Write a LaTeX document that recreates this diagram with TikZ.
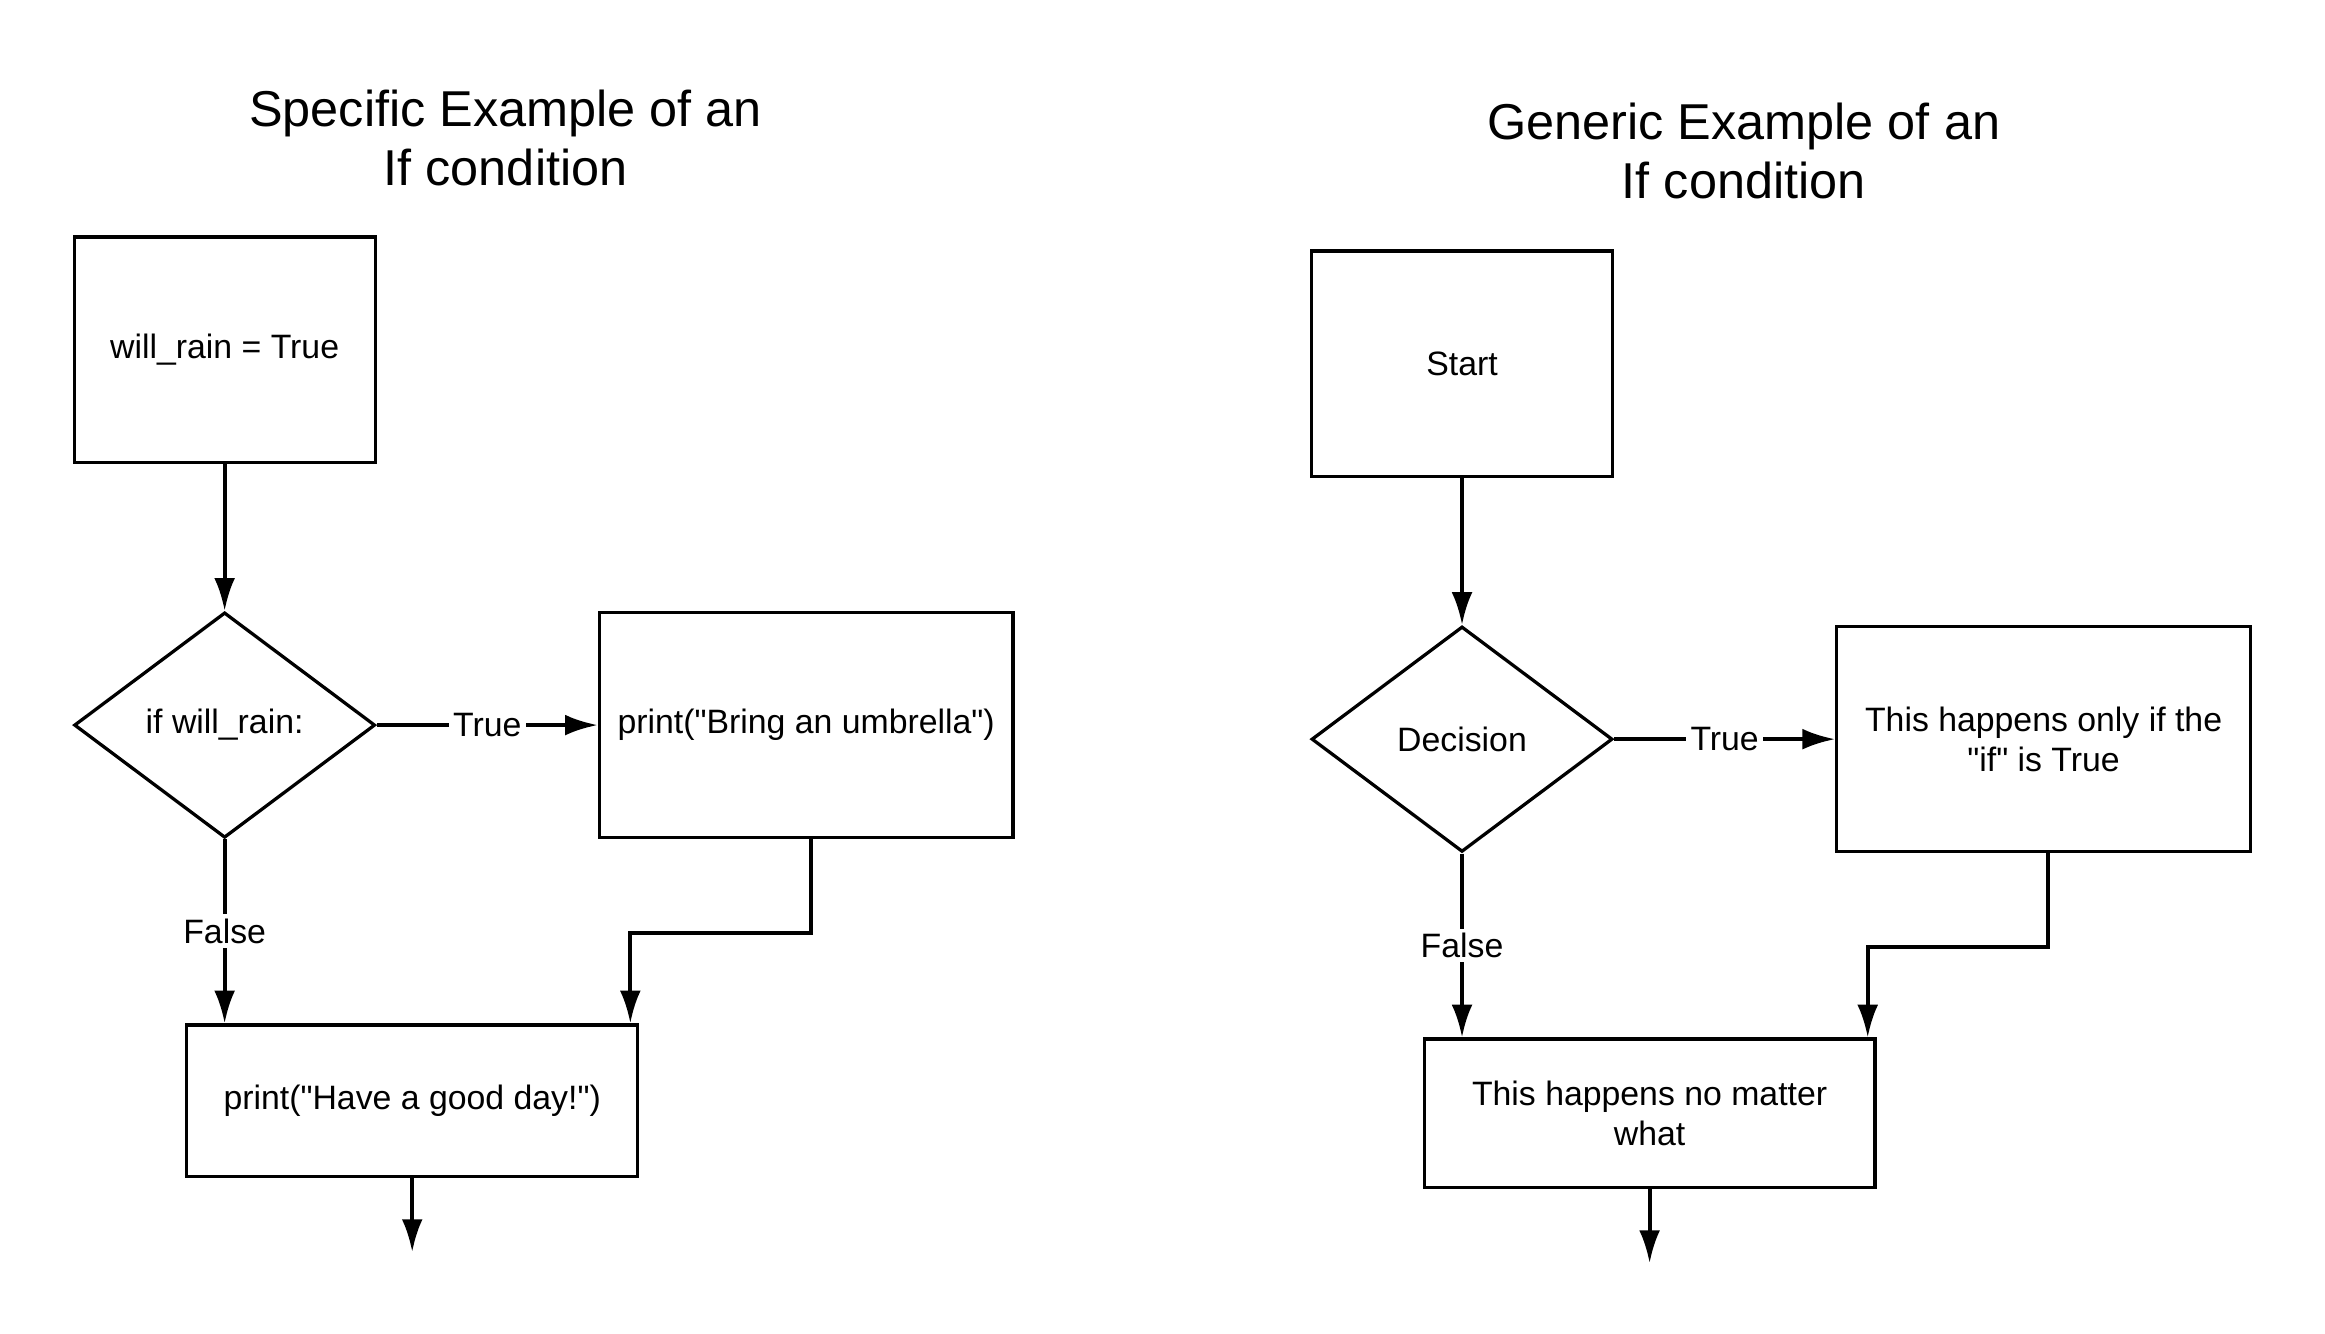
\documentclass[tikz,border=0pt]{standalone}
\usepackage{fontspec}
\setmainfont{Liberation Sans}[Ligatures=TeXOff]
\usetikzlibrary{positioning,shapes.geometric,arrows.meta}
\tikzset{
  block/.style={rectangle, draw=black, line width=1.1pt, minimum width=101.5pt, minimum height=76pt, align=center, font=\fontsize{11.4}{13.5}\selectfont},
  cond/.style={diamond, draw=black, line width=1.1pt, aspect=1.34, inner sep=0pt, minimum width=101.5pt, minimum height=76pt, font=\fontsize{11.4}{13.5}\selectfont},
  heading/.style={align=center, font=\fontsize{17}{20}\selectfont},
  lbl/.style={fill=white, inner sep=1.5pt, font=\fontsize{11.4}{13.5}\selectfont},
  line/.style={draw, line width=1.3pt, -{Latex[length=11pt,width=7pt]}},
}
\begin{document}
\begin{tikzpicture}[x=0.5pt,y=-0.5pt]
  \useasboundingbox (0,0) rectangle (1568,899);
  % specific example
  \node[heading] (titleA) at (341,93) {Specific Example of an\\If condition};
  \node[cond] (ifrain) at (151.5,489) {if will\_rain:};
  \node[block,above=49.5pt of ifrain] (rain) {will\_rain = True};
  \node[block,minimum width=139.5pt,right=74.5pt of ifrain] (umbrella) {print("Bring an umbrella")};
  \node[block,minimum width=152pt,minimum height=51pt,below=62pt of ifrain,xshift=63.25pt] (goodday) {print("Have a good day!")};
  \coordinate[below=25pt of goodday] (endA);
  \draw[line] (rain) -- (ifrain);
  \draw[line] (ifrain) -- node[lbl] {True} (umbrella);
  \draw[line] (ifrain) -- node[lbl] {False} (ifrain.south |- goodday.north);
  \draw[line] ([xshift=1.5pt]umbrella.south) -- ++(0,63) -| ([xshift=-3pt]goodday.north east);
  \draw[line] (goodday) -- (endA);
  % generic example
  \node[heading] (titleB) at (1176,102) {Generic Example of an\\If condition};
  \node[cond] (decision) at (986,498.5) {Decision};
  \node[block,above=49.5pt of decision] (start) {Start};
  \node[block,minimum width=139.5pt,right=74.5pt of decision] (onlyif) {This happens only if the\\"if" is True};
  \node[block,minimum width=152pt,minimum height=50pt,below=62pt of decision,xshift=63.25pt] (always) {This happens no matter\\what};
  \coordinate[below=25pt of always] (endB);
  \draw[line] (start) -- (decision);
  \draw[line] (decision) -- node[lbl] {True} (onlyif);
  \draw[line] (decision) -- node[lbl] {False} (decision.south |- always.north);
  \draw[line] ([xshift=1.5pt]onlyif.south) -- ++(0,63) -| ([xshift=-3pt]always.north east);
  \draw[line] (always) -- (endB);
\end{tikzpicture}
\end{document}
